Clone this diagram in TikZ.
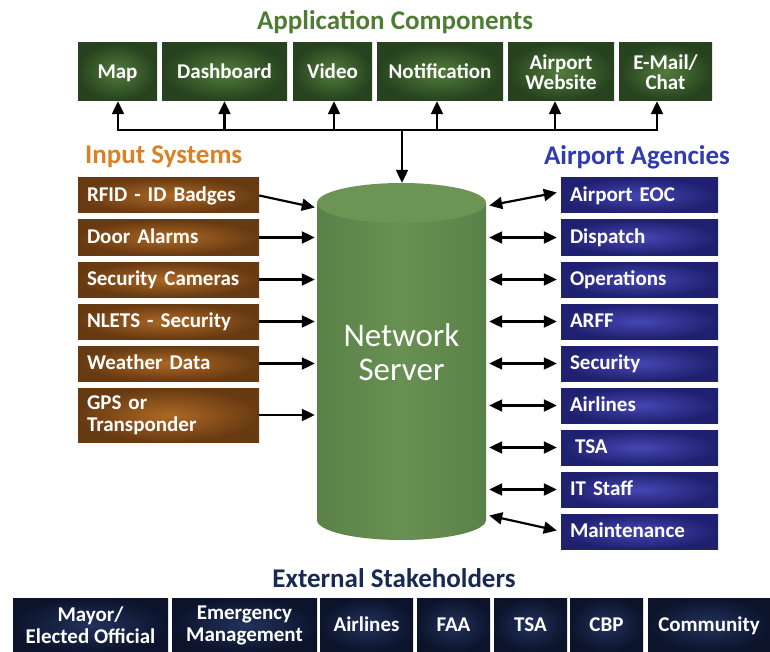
\documentclass[tikz,border=0pt]{standalone}
\usepackage{fontspec}
\setmainfont{Carlito}
\usetikzlibrary{arrows.meta}
\definecolor{ttlgreen}{RGB}{78,124,50}
\definecolor{ttlorange}{RGB}{220,128,38}
\definecolor{ttlblue}{RGB}{48,58,178}
\definecolor{ttlnavy}{RGB}{24,42,82}
\definecolor{gin}{RGB}{82,124,60}
\definecolor{gout}{RGB}{38,66,30}
\definecolor{oin}{RGB}{172,104,36}
\definecolor{oout}{RGB}{104,58,18}
\definecolor{bin}{RGB}{70,70,180}
\definecolor{bout}{RGB}{32,32,112}
\definecolor{nin}{RGB}{34,50,92}
\definecolor{nout}{RGB}{12,20,44}
\definecolor{cylA}{RGB}{90,130,72}
\definecolor{cylB}{RGB}{104,144,82}
\definecolor{cyltop}{RGB}{108,148,85}
\tikzset{
  boxfont/.style={font=\bfseries\fontsize{21}{20}\selectfont},
  oneline/.style={text height=15.5pt, text depth=3pt},
  ttl/.style={font=\bfseries\fontsize{27}{28}\selectfont, inner sep=0pt},
  appbox/.style={boxfont, inner color=gin, outer color=gout, text=white, align=center, inner sep=0pt, minimum height=58pt},
  inbase/.style={boxfont, inner color=oin, outer color=oout, text=white, align=left, inner xsep=9pt, inner ysep=0pt, text width=163pt, minimum height=35pt},
  inbox/.style={inbase, oneline},
  agbox/.style={boxfont, oneline, inner color=bin, outer color=bout, text=white, align=left, inner xsep=9pt, inner ysep=0pt, text width=139pt, minimum height=35pt},
  exbox/.style={font=\bfseries\fontsize{21}{22}\selectfont, inner color=nin, outer color=nout, text=white, align=center, inner sep=0pt, minimum height=54pt},
  conn/.style={line width=2.2pt, black},
  arr/.style={conn, -{Triangle[length=13pt,width=12pt]}},
  darr/.style={conn, {Triangle[length=13pt,width=12pt]}-{Triangle[length=13pt,width=12pt]}},
}
\begin{document}
\begin{tikzpicture}[x=1pt,y=-1pt]
\fill[white] (0,0) rectangle (770,652);
\useasboundingbox (0,0) rectangle (770,652);

% titles
\node[ttl, text=ttlgreen] (tApp) at (395,22) {Application Components};
\node[ttl, text=ttlorange, anchor=west] (tIn) at (85,157) {Input Systems};
\node[ttl, text=ttlblue] (tAg) at (637,157) {Airport Agencies};
\node[ttl, text=ttlnavy] (tEx) at (394,578) {External Stakeholders};

% application components
\node[appbox, oneline, minimum width=79pt]  (Map)   at (117.5,72) {Map};
\node[appbox, oneline, minimum width=125pt] (Dash)  at (224.5,72) {Dashboard};
\node[appbox, oneline, minimum width=79pt]  (Video) at (332.5,72) {Video};
\node[appbox, oneline, minimum width=126pt] (Notif) at (440,72) {Notification};
\node[appbox, minimum width=106pt] (Web)   at (561,72) {Airport\\Website};
\node[appbox, minimum width=93pt]  (Mail)  at (665.5,72) {E-Mail/\\Chat};

% network server cylinder
\shade[left color=cylA, right color=cylA, middle color=cylB]
  (317,203) -- (317,520) arc[start angle=180,end angle=0,x radius=84.5,y radius=20] -- (486,203) -- cycle;
\fill[cyltop] (401.5,203) ellipse[x radius=84.5,y radius=20];
\node[minimum width=169pt, minimum height=357pt, inner sep=0pt] (srv) at (401.5,361.5) {};
\node[text=white, font=\fontsize{33}{34}\selectfont, align=center] (srvtxt) at (401.5,352) {Network\\Server};

% input systems
\node[inbox] (RFID)    at (168.5,195.5) {RFID - ID Badges};
\node[inbox] (Door)    at (168.5,237.5) {Door Alarms};
\node[inbox] (Cam)     at (168.5,279.5) {Security Cameras};
\node[inbox] (NLETS)   at (168.5,321.5) {NLETS - Security};
\node[inbox] (Weather) at (168.5,363.5) {Weather Data};
\node[inbase, minimum height=54pt, font=\bfseries\fontsize{21}{22}\selectfont] (GPS) at (168.5,415) {GPS or\\Transponder};

% airport agencies
\node[agbox] (EOC)   at (639.5,195.5) {Airport EOC};
\node[agbox] (Disp)  at (639.5,237.5) {Dispatch};
\node[agbox] (Ops)   at (639.5,279.5) {Operations};
\node[agbox] (ARFF)  at (639.5,321.5) {ARFF};
\node[agbox] (Sec)   at (639.5,363.5) {Security};
\node[agbox] (Air)   at (639.5,405.5) {Airlines};
\node[agbox] (TSA)   at (639.5,447.5) {\hspace{5pt}TSA};
\node[agbox] (IT)    at (639.5,489.5) {IT Staff};
\node[agbox] (Maint) at (639.5,531.5) {Maintenance};

% external stakeholders
\node[exbox, minimum width=155pt] (Mayor) at (90.5,625) {Mayor/\\Elected Official};
\node[exbox, minimum width=145pt] (Emerg) at (244.5,625) {Emergency\\Management};
\node[exbox, oneline, minimum width=93pt]  (XAir)  at (366.5,625) {Airlines};
\node[exbox, oneline, minimum width=73pt]  (FAA)   at (453.5,625) {FAA};
\node[exbox, oneline, minimum width=73pt]  (XTSA)  at (530.5,625) {TSA};
\node[exbox, oneline, minimum width=73pt]  (CBP)   at (606.5,625) {CBP};
\node[exbox, oneline, minimum width=122pt] (Comm)  at (709,625) {Community};

% bus to application components
\coordinate (busL) at (118,130);
\coordinate (busR) at (657,130);
\coordinate (busM) at (402,130);
\draw[conn, line cap=rect] (busL) -- (busR);
\draw[arr] ([xshift=0.5pt]Map.south |- busL) -- ([xshift=0.5pt]Map.south);
\draw[arr] (Dash.south |- busL) -- (Dash.south);
\draw[arr] ([xshift=1.5pt]Video.south |- busL) -- ([xshift=1.5pt]Video.south);
\draw[arr] ([xshift=-3pt]Notif.south |- busL) -- ([xshift=-3pt]Notif.south);
\draw[arr] ([xshift=-6pt]Web.south |- busL) -- ([xshift=-6pt]Web.south);
\draw[arr] ([xshift=-8.5pt]Mail.south |- busL) -- ([xshift=-8.5pt]Mail.south);
\draw[arr] (busM) -- ([xshift=0.5pt]srv.north);

% inputs to server
\draw[arr] (RFID.east) -- ([shift={(-2pt,-12pt)}]srv.west |- RFID.east);
\draw[arr] (Door.east) -- ([xshift=-2pt]srv.west |- Door.east);
\draw[arr] (Cam.east) -- ([xshift=-2pt]srv.west |- Cam.east);
\draw[arr] (NLETS.east) -- ([xshift=-2pt]srv.west |- NLETS.east);
\draw[arr] (Weather.east) -- ([xshift=-2pt]srv.west |- Weather.east);
\draw[arr] (GPS.east) -- ([xshift=-2pt]srv.west |- GPS.east);

% server to agencies
\draw[darr] ([shift={(3pt,-10pt)}]srv.east |- EOC.west) -- ([shift={(-4pt,3pt)}]EOC.west);
\draw[darr] ([xshift=3pt]srv.east |- Disp.west) -- ([xshift=-4pt]Disp.west);
\draw[darr] ([xshift=3pt]srv.east |- Ops.west) -- ([xshift=-4pt]Ops.west);
\draw[darr] ([xshift=3pt]srv.east |- ARFF.west) -- ([xshift=-4pt]ARFF.west);
\draw[darr] ([xshift=3pt]srv.east |- Sec.west) -- ([xshift=-4pt]Sec.west);
\draw[darr] ([xshift=3pt]srv.east |- Air.west) -- ([xshift=-4pt]Air.west);
\draw[darr] ([xshift=3pt]srv.east |- TSA.west) -- ([xshift=-4pt]TSA.west);
\draw[darr] ([xshift=3pt]srv.east |- IT.west) -- ([xshift=-4pt]IT.west);
\draw[darr] ([shift={(3pt,16pt)}]srv.east |- Maint.west) -- ([shift={(-4pt,1pt)}]Maint.west);
\end{tikzpicture}
\end{document}
